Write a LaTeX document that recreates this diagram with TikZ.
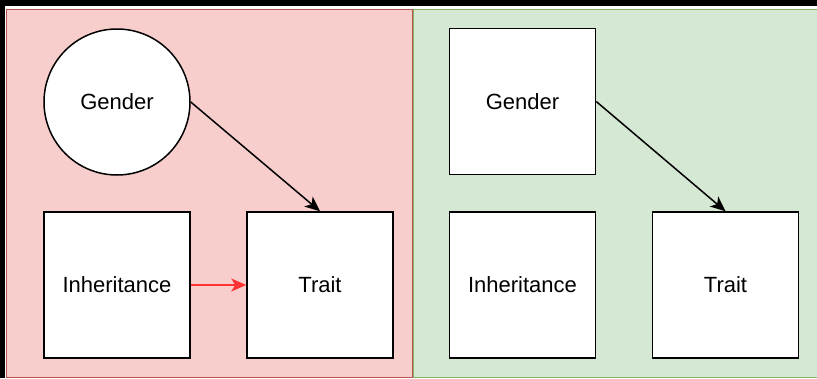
\documentclass[tikz,border=0pt]{standalone}
\usepackage{fontspec}
\setmainfont{Liberation Sans}
\usetikzlibrary{arrows.meta}
\definecolor{redfill}{HTML}{F8CECC}
\definecolor{redline}{HTML}{B85450}
\definecolor{greenfill}{HTML}{D5E8D4}
\definecolor{greenline}{HTML}{82B366}
\definecolor{redarrow}{HTML}{FF3333}
\tikzset{
  box/.style={draw=black, fill=white, line width=1.5pt, minimum width=146pt, minimum height=146pt, inner sep=0pt, font=\fontsize{22}{26}\selectfont},
  circ/.style={circle, draw=black, fill=white, line width=1.5pt, minimum size=146pt, inner sep=0pt, font=\fontsize{22}{26}\selectfont},
  conn/.style={line width=1.5pt, -{Stealth[length=15pt, width=13pt, inset=4pt]}},
}
\begin{document}
\begin{tikzpicture}[x=1pt, y=-1pt]
\useasboundingbox (0,0) rectangle (817,378);
\fill[black] (0,0) rectangle (817,378);
\fill[white] (4.5,6) rectangle (817,378);
\draw[fill=redfill, draw=redline, line width=1.5pt] (6.5,9.5) rectangle (412.5,377.5);
\draw[fill=greenfill, draw=greenline, line width=1.5pt] (413.5,9.5) rectangle (822,377.5);
\draw[redline, line width=1.5pt] (412.5,9.5) -- (412.5,377.5);
\node[circ] (g1) at (117,102) {Gender};
\node[box] (i1) at (117,285) {Inheritance};
\node[box] (t1) at (320,285) {Trait};
\node[box] (g2) at (522.5,101.5) {Gender};
\node[box] (i2) at (522.5,285) {Inheritance};
\node[box] (t2) at (725.5,285) {Trait};
\draw[conn] (g1.east) -- (t1.north);
\draw[conn] (g2.east) -- (t2.north);
\draw[conn, redarrow] (i1.east) -- (t1.west);
\end{tikzpicture}
\end{document}
